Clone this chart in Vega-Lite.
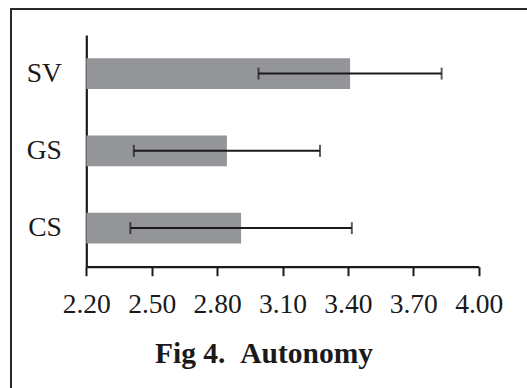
{
  "$schema": "https://vega.github.io/schema/vega-lite/v6.json",
  "width": 530,
  "height": 390,
  "autosize": {"type": "none"},
  "padding": {"left": 11, "top": 9, "right": 0, "bottom": 0},
  "background": "white",
  "config": {
    "view": {"stroke": "#2a2a2a", "strokeWidth": 2},
    "font": "Liberation Serif"
  },
  "data": {
    "values": [
      {"group": "SV", "mean": 3.41, "lo": 2.99, "hi": 3.83},
      {"group": "GS", "mean": 2.845, "lo": 2.418, "hi": 3.272},
      {"group": "CS", "mean": 2.91, "lo": 2.402, "hi": 3.418}
    ]
  },
  "encoding": {
    "y": {
      "field": "group",
      "type": "nominal",
      "sort": ["SV", "GS", "CS"],
      "scale": {"range": [26, 257.7], "paddingInner": 0.6, "paddingOuter": 0.3},
      "axis": {
        "title": null,
        "offset": -75.3,
        "ticks": false,
        "tickSize": 0,
        "domainColor": "#1a1a1a",
        "domainWidth": 2.2,
        "labelFont": "Liberation Serif",
        "labelFontSize": 27.5,
        "labelColor": "#1a1a1a",
        "labelPadding": 25
      }
    }
  },
  "layer": [
    {
      "mark": {"type": "bar", "color": "#939598"},
      "encoding": {
        "x": {
          "field": "mean",
          "type": "quantitative",
          "scale": {"domain": [2.2, 4.0], "range": [75.3, 467.7], "nice": false, "zero": false},
          "axis": {
            "values": [2.2, 2.5, 2.8, 3.1, 3.4, 3.7, 4.0],
            "format": ".2f",
            "offset": -132.3,
            "grid": false,
            "domainColor": "#1a1a1a",
            "domainWidth": 2.2,
            "tickColor": "#1a1a1a",
            "tickWidth": 2,
            "tickSize": 9,
            "labelFont": "Liberation Serif",
            "labelFontSize": 27.5,
            "labelColor": "#1a1a1a",
            "labelPadding": 14.5,
            "labelOverlap": false,
            "labelFlush": false,
            "labelBound": false,
            "title": "Fig 4.\u00a0\u00a0Autonomy",
            "titleFont": "Liberation Serif",
            "titleFontWeight": "bold",
            "titleFontSize": 29.5,
            "titleColor": "#1a1a1a",
            "titleX": 252.5,
            "titleY": 95.3,
            "titleBaseline": "alphabetic",
            "titleAlign": "center"
          }
        },
        "x2": {"datum": 2.2}
      }
    },
    {
      "mark": {"type": "rule", "color": "#1a1a1a", "strokeWidth": 2},
      "encoding": {
        "x": {"field": "lo", "type": "quantitative"},
        "x2": {"field": "hi"}
      }
    },
    {
      "mark": {"type": "tick", "color": "#1a1a1a", "thickness": 2, "size": 12},
      "encoding": {"x": {"field": "lo", "type": "quantitative"}}
    },
    {
      "mark": {"type": "tick", "color": "#1a1a1a", "thickness": 2, "size": 12},
      "encoding": {"x": {"field": "hi", "type": "quantitative"}}
    }
  ]
}
